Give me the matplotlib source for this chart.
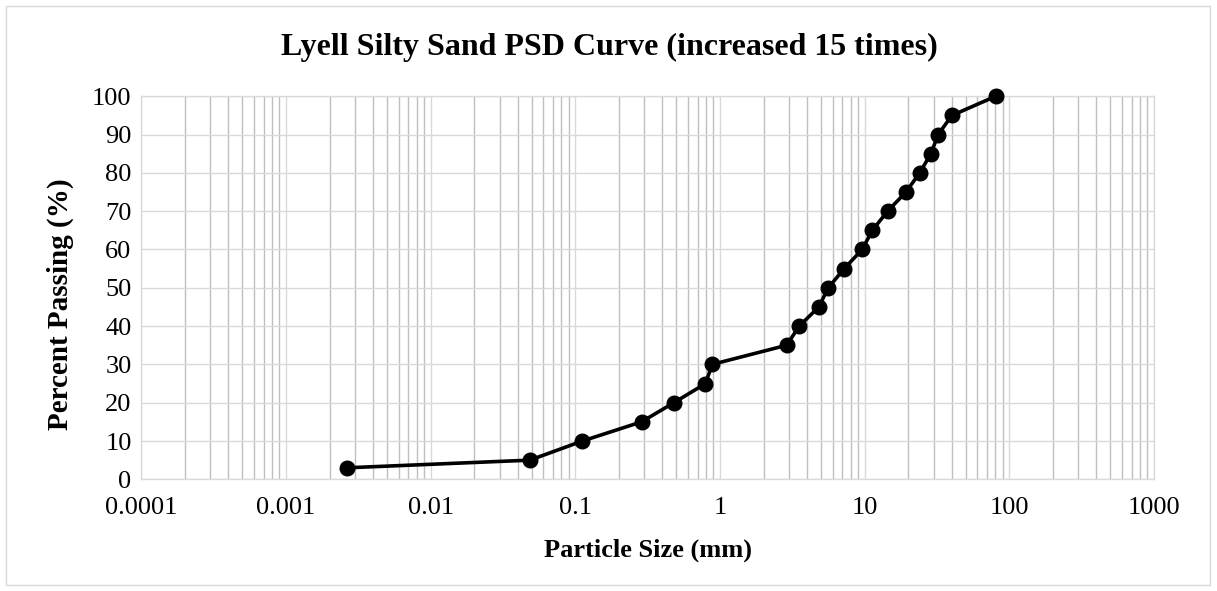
import matplotlib
matplotlib.use("Agg")
import matplotlib.pyplot as plt
from matplotlib.ticker import LogLocator, FixedLocator, NullFormatter
from matplotlib.patches import Rectangle

# Data (particle size in mm, percent passing)
particle_size = [0.00263, 0.0485, 0.112, 0.287, 0.48, 0.794, 0.883, 2.89, 3.53,
                 4.82, 5.60, 7.22, 9.61, 11.3, 14.4, 19.3, 24.0, 28.7, 32.2, 40.1, 80.4]
percent_passing = [3, 5, 10, 15, 20, 25, 30, 35, 40, 45, 50, 55, 60, 65, 70, 75,
                   80, 85, 90, 95, 100]
x_tick_values = [0.0001, 0.001, 0.01, 0.1, 1, 10, 100, 1000]
x_tick_labels = ["0.0001", "0.001", "0.01", "0.1", "1", "10", "100", "1000"]
y_tick_values = [0, 10, 20, 30, 40, 50, 60, 70, 80, 90, 100]

title = "Lyell Silty Sand PSD Curve (increased 15 times)"
xlabel = "Particle Size (mm)"
ylabel = "Percent Passing (%)"

plt.rcParams['font.family'] = ['Liberation Serif', 'DejaVu Serif']

W, H = 1217, 591
fig = plt.figure(figsize=(W / 100, H / 100), dpi=100)
fig.patch.set_facecolor("white")

# outer chart border
fig.patches.append(Rectangle((6 / W, 6 / H), (1210 - 6) / W, (585 - 6) / H,
                             transform=fig.transFigure, fill=False,
                             edgecolor="#d9d9d9", linewidth=1.0))

left, right = 141.3 / W, 1154 / W
top, bottom = 1 - 96.3 / H, 1 - 479.3 / H
ax = fig.add_axes([left, bottom, right - left, top - bottom])

ax.set_xscale("log")
ax.set_xlim(0.0001, 1000)
ax.set_ylim(0, 100)

ax.xaxis.set_major_locator(FixedLocator(x_tick_values))
ax.set_xticks(x_tick_values)
ax.set_xticklabels(x_tick_labels)
ax.xaxis.set_minor_locator(LogLocator(base=10, subs=[2, 3, 4, 5, 6, 7, 8, 9], numticks=20))
ax.xaxis.set_minor_formatter(NullFormatter())
ax.set_yticks(y_tick_values)

ax.grid(True, which="major", axis="x", color="#d9d9d9", linewidth=1.0)
ax.grid(True, which="minor", axis="x", color="#bfbfbf", linewidth=1.0)
ax.grid(True, which="major", axis="y", color="#d9d9d9", linewidth=1.0)
ax.set_axisbelow(True)

for s in ax.spines.values():
    s.set_color("#d9d9d9")
    s.set_linewidth(1.0)

ax.tick_params(axis="both", which="both", length=0, labelsize=19, colors="black")
ax.tick_params(axis="x", pad=13)
ax.tick_params(axis="y", pad=7)

ax.plot(particle_size, percent_passing, color="black", linewidth=2.6,
        marker="o", markersize=10.5, markerfacecolor="black",
        markeredgecolor="black", zorder=3, clip_on=False)

fig.text(609 / W, 1 - 47 / H, title, ha="center", va="center",
         fontsize=23, fontweight="bold")
fig.text(648 / W, 1 - 550 / H, xlabel, ha="center", va="center",
         fontsize=19, fontweight="bold")
fig.text(60 / W, 1 - 304 / H, ylabel, ha="center", va="center",
         rotation=90, fontsize=21, fontweight="bold")

fig.savefig("out.png", dpi=100, facecolor="white")
